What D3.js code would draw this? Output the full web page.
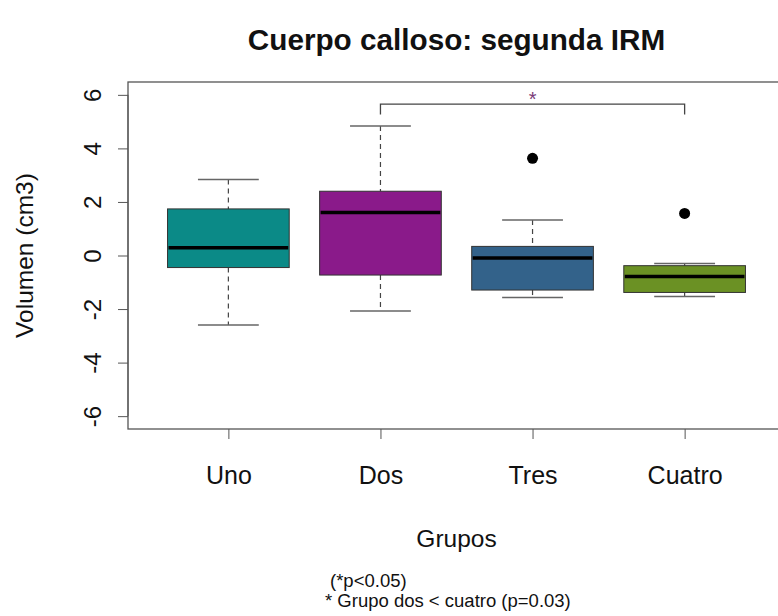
<!DOCTYPE html>
<html>
<head>
<meta charset="utf-8">
<script src="https://cdn.jsdelivr.net/npm/d3@7"></script>
<style>
  body { margin: 0; background: #fff; }
  text { font-family: "Liberation Sans", Arial, sans-serif; fill: #111; }
</style>
</head>
<body>
<script>
// Values (cm3)
var grupos = ["Uno", "Dos", "Tres", "Cuatro"];
var bigoteInf = [-2.60, -2.07, -1.57, -1.53];
var q1 = [-0.45, -0.73, -1.29, -1.38];
var mediana = [0.29, 1.61, -0.09, -0.78];
var q3 = [1.74, 2.40, 0.34, -0.38];
var bigoteSup = [2.84, 4.84, 1.33, -0.30];
var atipicos = [[], [], [3.63], [1.57]];
var colores = ["#0b8a87", "#8a1a8a", "#33628a", "#6b9124"];
var yTicks = [-6, -4, -2, 0, 2, 4, 6];

// bracket between Dos and Cuatro
var corchete = { desde: "Dos", hasta: "Cuatro", y: 5.65, yPie: 5.27, ast: 6.0 };

var W = 778, H = 616;
var plot = { left: 128, right: 785, top: 82, bottom: 429 };

var svg = d3.select("body").append("svg")
    .attr("width", W)
    .attr("height", H);

var x = d3.scalePoint()
    .domain(grupos)
    .range([plot.left, plot.right])
    .padding(0.66);

var y = d3.scaleLinear()
    .domain([-6.48, 6.48])
    .range([plot.bottom, plot.top]);

var bw = x.step() * 0.8;

// plot border
svg.append("rect")
    .attr("x", plot.left)
    .attr("y", plot.top)
    .attr("width", plot.right - plot.left)
    .attr("height", plot.bottom - plot.top)
    .attr("fill", "none")
    .attr("stroke", "#555")
    .attr("stroke-width", 1.3);

// Y axis (plain hyphen minus like R)
var yAxis = svg.append("g")
    .attr("transform", "translate(" + plot.left + ",0)")
    .call(d3.axisLeft(y).tickValues(yTicks).tickSize(10)
      .tickFormat(function(d) { return String(d); }));
yAxis.select(".domain").attr("stroke", "#555").attr("d", "M0," + y(-6) + "V" + y(6));
yAxis.selectAll(".tick line").attr("stroke", "#555");
yAxis.selectAll("text")
    .attr("x", null).attr("dy", null)
    .attr("transform", "translate(-36,0) rotate(-90)")
    .attr("text-anchor", "middle")
    .attr("dominant-baseline", "central")
    .style("font-size", "24px")
    .style("font-family", "Liberation Sans, Arial, sans-serif")
    .attr("fill", "#111");

// X axis
var xAxis = svg.append("g")
    .attr("transform", "translate(0," + plot.bottom + ")")
    .call(d3.axisBottom(x).tickSize(10).tickPadding(27));
xAxis.select(".domain").remove();
xAxis.selectAll(".tick line").attr("stroke", "#555");
xAxis.selectAll("text")
    .style("font-size", "25px")
    .style("font-family", "Liberation Sans, Arial, sans-serif")
    .attr("fill", "#111");

// boxes
var datos = grupos.map(function(g, i) {
  return { g: g, lo: bigoteInf[i], q1: q1[i], med: mediana[i], q3: q3[i], hi: bigoteSup[i], out: atipicos[i], c: colores[i] };
});

var caja = svg.selectAll(".caja")
    .data(datos)
  .enter().append("g")
    .attr("class", "caja");

// whiskers (dashed)
caja.append("line")
    .attr("x1", function(d) { return x(d.g); })
    .attr("x2", function(d) { return x(d.g); })
    .attr("y1", function(d) { return y(d.hi); })
    .attr("y2", function(d) { return y(d.q3); })
    .attr("stroke", "#444")
    .attr("stroke-width", 1.2)
    .attr("stroke-dasharray", "5,4");
caja.append("line")
    .attr("x1", function(d) { return x(d.g); })
    .attr("x2", function(d) { return x(d.g); })
    .attr("y1", function(d) { return y(d.q1); })
    .attr("y2", function(d) { return y(d.lo); })
    .attr("stroke", "#444")
    .attr("stroke-width", 1.2)
    .attr("stroke-dasharray", "5,4");

// staples
["hi", "lo"].forEach(function(k) {
  caja.append("line")
      .attr("x1", function(d) { return x(d.g) - bw / 4; })
      .attr("x2", function(d) { return x(d.g) + bw / 4; })
      .attr("y1", function(d) { return y(d[k]); })
      .attr("y2", function(d) { return y(d[k]); })
      .attr("stroke", "#666")
      .attr("stroke-width", 1.5);
});

caja.append("rect")
    .attr("x", function(d) { return x(d.g) - bw / 2; })
    .attr("width", bw)
    .attr("y", function(d) { return y(d.q3); })
    .attr("height", function(d) { return y(d.q1) - y(d.q3); })
    .attr("fill", function(d) { return d.c; })
    .attr("stroke", "#333")
    .attr("stroke-width", 1);

caja.append("line")
    .attr("x1", function(d) { return x(d.g) - bw / 2 + 1; })
    .attr("x2", function(d) { return x(d.g) + bw / 2 - 1; })
    .attr("y1", function(d) { return y(d.med); })
    .attr("y2", function(d) { return y(d.med); })
    .attr("stroke", "#000")
    .attr("stroke-width", 3.5);

// outliers
caja.selectAll("circle")
    .data(function(d) { return d.out.map(function(v) { return { g: d.g, v: v }; }); })
  .enter().append("circle")
    .attr("cx", function(d) { return x(d.g); })
    .attr("cy", function(d) { return y(d.v); })
    .attr("r", 5.5)
    .attr("fill", "#000");

// significance bracket
svg.append("path")
    .attr("d", "M" + x(corchete.desde) + "," + y(corchete.yPie) +
               "V" + y(corchete.y) +
               "H" + x(corchete.hasta) +
               "V" + y(corchete.yPie))
    .attr("fill", "none")
    .attr("stroke", "#444")
    .attr("stroke-width", 1.3);

svg.append("text")
    .attr("x", (x(corchete.desde) + x(corchete.hasta)) / 2)
    .attr("y", y(corchete.ast) + 11)
    .attr("text-anchor", "middle")
    .style("font-size", "20px")
    .style("fill", "#7a3b78")
    .text("*");

// title
svg.append("text")
    .attr("x", (plot.left + plot.right) / 2)
    .attr("y", 50)
    .attr("text-anchor", "middle")
    .style("font-size", "29.7px")
    .style("font-weight", "bold")
    .text("Cuerpo calloso: segunda IRM");

// axis titles
svg.append("text")
    .attr("x", (plot.left + plot.right) / 2)
    .attr("y", 547)
    .attr("text-anchor", "middle")
    .style("font-size", "24.5px")
    .text("Grupos");

svg.append("text")
    .attr("transform", "translate(33," + y(0) + ") rotate(-90)")
    .attr("text-anchor", "middle")
    .style("font-size", "24.5px")
    .text("Volumen (cm3)");

// footnote
var nota = ["(*p<0.05)", "* Grupo dos < cuatro (p=0.03)"];
svg.selectAll(".nota")
    .data(nota)
  .enter().append("text")
    .attr("class", "nota")
    .attr("x", function(d, i) { return i === 0 ? 330 : 325; })
    .attr("y", function(d, i) { return 587 + i * 20; })
    .style("font-size", "18.5px")
    .text(function(d) { return d; });
</script>
</body>
</html>
